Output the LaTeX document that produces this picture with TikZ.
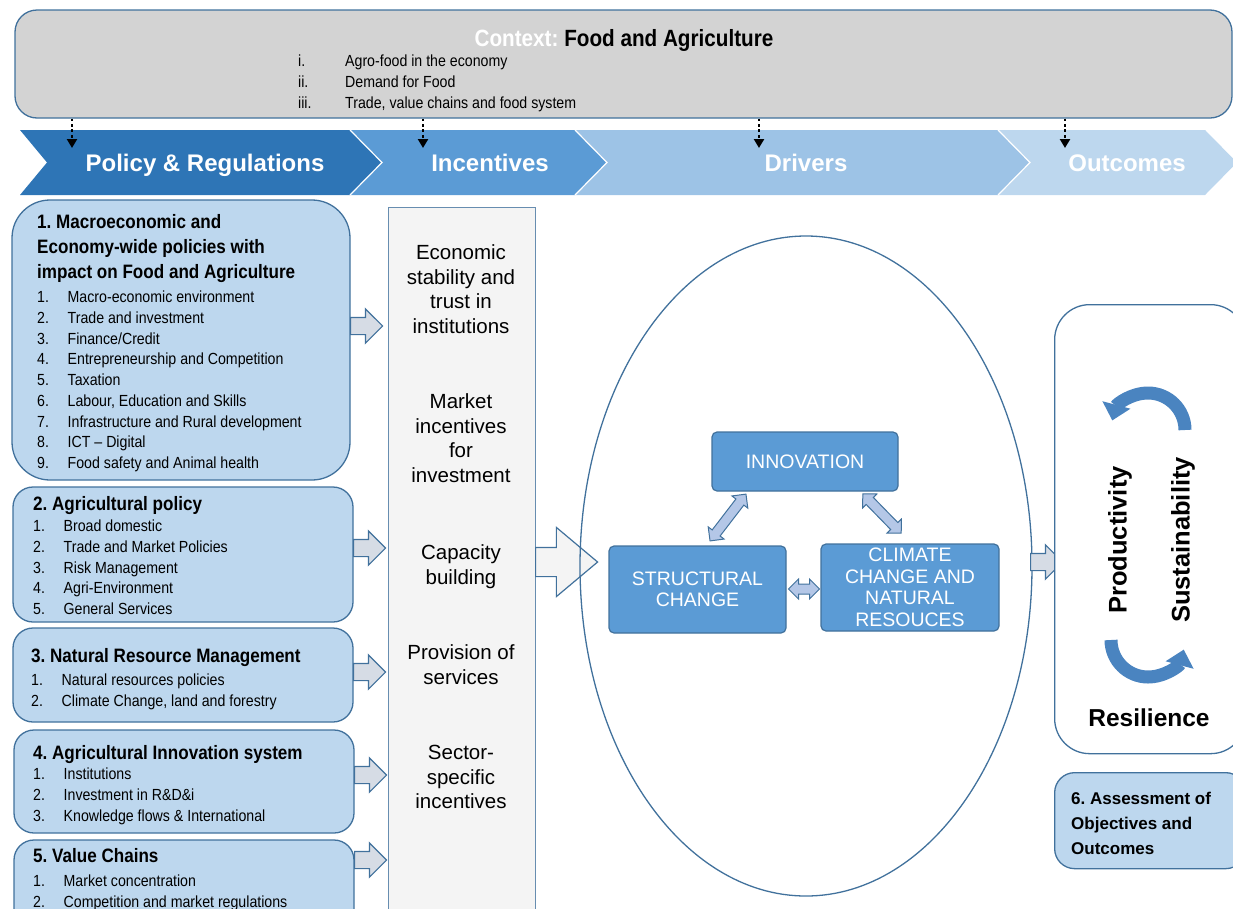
\documentclass[tikz,border=0pt]{standalone}
\usepackage{fontspec}
\setmainfont{Liberation Sans}
\newfontfamily\narrowfont[FakeStretch=0.88]{Liberation Sans}
\usepackage{xcolor}
\usepackage{tikz}
\usetikzlibrary{arrows.meta,positioning,calc,shapes.geometric,shapes.arrows}

\definecolor{ctxgray}{HTML}{D3D3D3}
\definecolor{edgeblue}{HTML}{41719C}
\definecolor{chevA}{HTML}{2E75B6}
\definecolor{chevB}{HTML}{5B9BD5}
\definecolor{chevC}{HTML}{9DC3E6}
\definecolor{chevD}{HTML}{BDD7EE}
\definecolor{boxblue}{HTML}{BDD7EE}
\definecolor{arrgray}{HTML}{D6DCE5}
\definecolor{colgray}{HTML}{F4F4F4}
\definecolor{dblblue}{HTML}{B4C7E7}
\definecolor{drvblue}{HTML}{5B9BD5}
\definecolor{loopblue}{HTML}{4A84C0}

% numbered entry: label column, then text
\newcommand{\itm}[3][30.5pt]{\makebox[#1][l]{#2}#3}

\begin{document}
\frenchspacing
\begin{tikzpicture}[x=1pt,y=-1pt,
  lbox/.style={draw=edgeblue,fill=boxblue,line width=1.3pt,rounded corners=20pt,inner sep=0pt},
  % multi-line texts sit on the baseline of their last line
  ttl/.style={anchor=base west,inner sep=0pt,align=left,font=\narrowfont\bfseries\fontsize{19.4}{25}\selectfont},
  lst/.style={anchor=base west,inner sep=0pt,align=left,font=\narrowfont\fontsize{16.1}{20.75}\selectfont},
  chevlbl/.style={anchor=base,inner sep=0pt,text=white,font=\bfseries\fontsize{24}{28}\selectfont},
  inctxt/.style={anchor=base,inner sep=0pt,align=center,font=\fontsize{20.5}{24.7}\selectfont},
  drvbox/.style={draw=edgeblue,fill=drvblue,line width=1.2pt,rounded corners=5pt,text=white,align=center,inner sep=0pt,font=\fontsize{19.5}{21.5}\selectfont},
  smallarr/.style={single arrow,draw=edgeblue,fill=arrgray,line width=1.2pt,inner sep=0pt,inner ysep=8pt,single arrow head extend=8.5pt,minimum height=32pt,anchor=tail},
  bigarr/.style={single arrow,draw=edgeblue,fill=colgray,line width=1.2pt,inner sep=0pt,inner ysep=14pt,single arrow head extend=20pt,single arrow tip angle=80,minimum height=62pt,anchor=tail},
  dblarr/.style={double arrow,draw=edgeblue,fill=dblblue,line width=1pt,inner sep=0pt,inner ysep=4.5pt,double arrow head extend=5pt,double arrow tip angle=90},
  dotarr/.style={line width=2.8pt,dash pattern=on 2.8pt off 2.6pt,-{Triangle[width=10pt,length=9pt]}},
  loop/.style={draw=loopblue,line width=13pt,-{Triangle[width=28pt,length=16pt]}},
  outttl/.style={inner sep=0pt,font=\bfseries\fontsize{25.5}{30}\selectfont}
]
\useasboundingbox (0,0) rectangle (1233,908);
\clip (0,0) rectangle (1233,908);

% context banner
\node[draw=edgeblue,fill=ctxgray,line width=1.3pt,rounded corners=22pt,minimum width=1217,minimum height=108] (ctx) at (623.5,64) {};
\node[anchor=base,inner sep=0pt,font=\narrowfont\bfseries\fontsize{23.5}{28}\selectfont] (ctxT) at (624,46) {\textcolor{white}{Context:} Food and Agriculture};
\node[lst] (ctxL) at (298,108) {\itm[47pt]{i.}{Agro-food in the economy}\\
  \itm[47pt]{ii.}{Demand for Food}\\
  \itm[47pt]{iii.}{Trade, value chains and food system}};

% chevron band
\fill[chevA] (20,130) -- (350,130) -- (382,162.5) -- (350,195) -- (20,195) -- (47,162.5) -- cycle;
\fill[chevB] (350,130) -- (575,130) -- (607,162.5) -- (575,195) -- (350,195) -- (382,162.5) -- cycle;
\fill[chevC] (575,130) -- (998,130) -- (1030,162.5) -- (998,195) -- (575,195) -- (607,162.5) -- cycle;
\fill[chevD] (998,130) -- (1205,130) -- (1237,162.5) -- (1205,195) -- (998,195) -- (1030,162.5) -- cycle;
\draw[white,line width=1.2pt] (350,130) -- (382,162.5) -- (350,195)
  (575,130) -- (607,162.5) -- (575,195) (998,130) -- (1030,162.5) -- (998,195);
\node[chevlbl] (polT) at (205,171) {Policy \& Regulations};
\node[chevlbl] (incT) at (490,171) {Incentives};
\node[chevlbl] (drvT) at (806,171) {Drivers};
\node[chevlbl] (outT) at (1127,171) {Outcomes};

% context feeds each stage
\coordinate (d1) at (72,148);
\coordinate (d2) at (423,148);
\coordinate (d3) at (759,148);
\coordinate (d4) at (1065,148);
\foreach \d in {d1,d2,d3,d4}
  \draw[dotarr] (ctx.south -| \d) -- (\d);

% policy domains
\node[lbox,rounded corners=38pt,minimum width=338,minimum height=280] (macro) at (181,340) {};
\node[ttl] (macroT) at (37,278) {1. Macroeconomic and\\Economy-wide policies with\\impact on Food and Agriculture};
\node[lst] (macroL) at (37,468.5) {\itm{1.}{Macro-economic environment}\\
  \itm{2.}{Trade and investment}\\
  \itm{3.}{Finance/Credit}\\
  \itm{4.}{Entrepreneurship and Competition}\\
  \itm{5.}{Taxation}\\
  \itm{6.}{Labour, Education and Skills}\\
  \itm{7.}{Infrastructure and Rural development}\\
  \itm{8.}{ICT \textendash{} Digital}\\
  \itm{9.}{Food safety and Animal health}};

\node[lbox,minimum width=340,minimum height=135] (agri) at (183,554.5) {};
\node[ttl] (agriT) at (33,510) {2. Agricultural policy};
\node[lst] (agriL) at (33,614.5) {\itm{1.}{Broad domestic}\\
  \itm{2.}{Trade and Market Policies}\\
  \itm{3.}{Risk Management}\\
  \itm{4.}{Agri-Environment}\\
  \itm{5.}{General Services}};

\node[lbox,minimum width=340,minimum height=94] (natres) at (183,675) {};
\node[ttl] (natresT) at (31,662) {3. Natural Resource Management};
\node[lst] (natresL) at (31,706.25) {\itm{1.}{Natural resources policies}\\
  \itm{2.}{Climate Change, land and forestry}};

\node[lbox,minimum width=340,minimum height=103] (akis) at (184,781.5) {};
\node[ttl] (akisT) at (33,759) {4. Agricultural Innovation system};
\node[lst] (akisL) at (33,821) {\itm{1.}{Institutions}\\
  \itm{2.}{Investment in R\&D\&i}\\
  \itm{3.}{Knowledge flows \& International}};

\node[lbox,minimum width=340,minimum height=100] (valch) at (184,890) {};
\node[ttl] (valchT) at (33,862) {5. Value Chains};
\node[lst] (valchL) at (33,907.25) {\itm{1.}{Market concentration}\\
  \itm{2.}{Competition and market regulations}};

% domain arrows into incentives
\node[smallarr] (a1) at (350,326) {};
\node[smallarr] (a2) at (353,548) {};
\node[smallarr] (a3) at (353,672) {};
\node[smallarr] (a4) at (354,775) {};
\node[smallarr] (a5) at (354,860) {};

% incentives column
\node[draw=edgeblue!80,fill=colgray,line width=1.3pt,minimum width=147,minimum height=730,anchor=north west] (incol) at (388,207) {};
\node[inctxt] (inc1) at (461,333.6) {Economic\\stability and\\trust in\\institutions};
\node[inctxt] (inc2) at (461,482.6) {Market\\incentives\\for\\investment};
\node[inctxt] (inc3) at (461,584.2) {Capacity\\building};
\node[inctxt] (inc4) at (461,684.2) {Provision of\\services};
\node[inctxt] (inc5) at (461,808.9) {Sector-\\specific\\incentives};
\node[bigarr] (big) at (535,562) {};

% drivers
\node[draw=edgeblue,line width=1.3pt,ellipse,minimum width=452,minimum height=660] (drv) at (806,566) {};
\node[drvbox,minimum width=186,minimum height=59] (innov) at (805,461.5) {INNOVATION};
\node[drvbox,minimum width=177,minimum height=87] (struc) at (697.5,589.5) {STRUCTURAL\\CHANGE};
\node[drvbox,minimum width=178,minimum height=87] (clim) at (910,587.5) {CLIMATE\\CHANGE AND\\NATURAL\\RESOUCES};
\node[dblarr,minimum height=59,rotate=52.5] (sc-in) at (728,517.5) {};
\node[dblarr,minimum height=55,rotate=-45.7] (in-cl) at (882,513.5) {};
\node[dblarr,minimum height=31] (sc-cl) at (804,589) {};

% outcomes
\node[smallarr] (a6) at (1030,562) {};
\node[draw=edgeblue,fill=white,line width=1.3pt,rounded corners=35pt,minimum width=191,minimum height=449,anchor=north west] (outc) at (1054,304) {};
\draw[loop] (1185,430) arc[start angle=0,end angle=165,radius=37pt];
\draw[loop] (1111,640) arc[start angle=180,end angle=345,radius=37pt];
\node[outttl,rotate=90] (prod) at (1120,540) {Productivity};
\node[outttl,rotate=90] (sust) at (1183,540) {Sustainability};
\node[inner sep=0pt,font=\bfseries\fontsize{24.5}{28}\selectfont] (resil) at (1149,718) {Resilience};

\node[lbox,minimum width=191,minimum height=96,anchor=north west] (assess) at (1054,772) {};
\node[anchor=base west,inner sep=0pt,align=left,font=\bfseries\fontsize{17}{25}\selectfont] (assessT) at (1071,854) {6. Assessment of\\Objectives and\\Outcomes};
\end{tikzpicture}
\end{document}
